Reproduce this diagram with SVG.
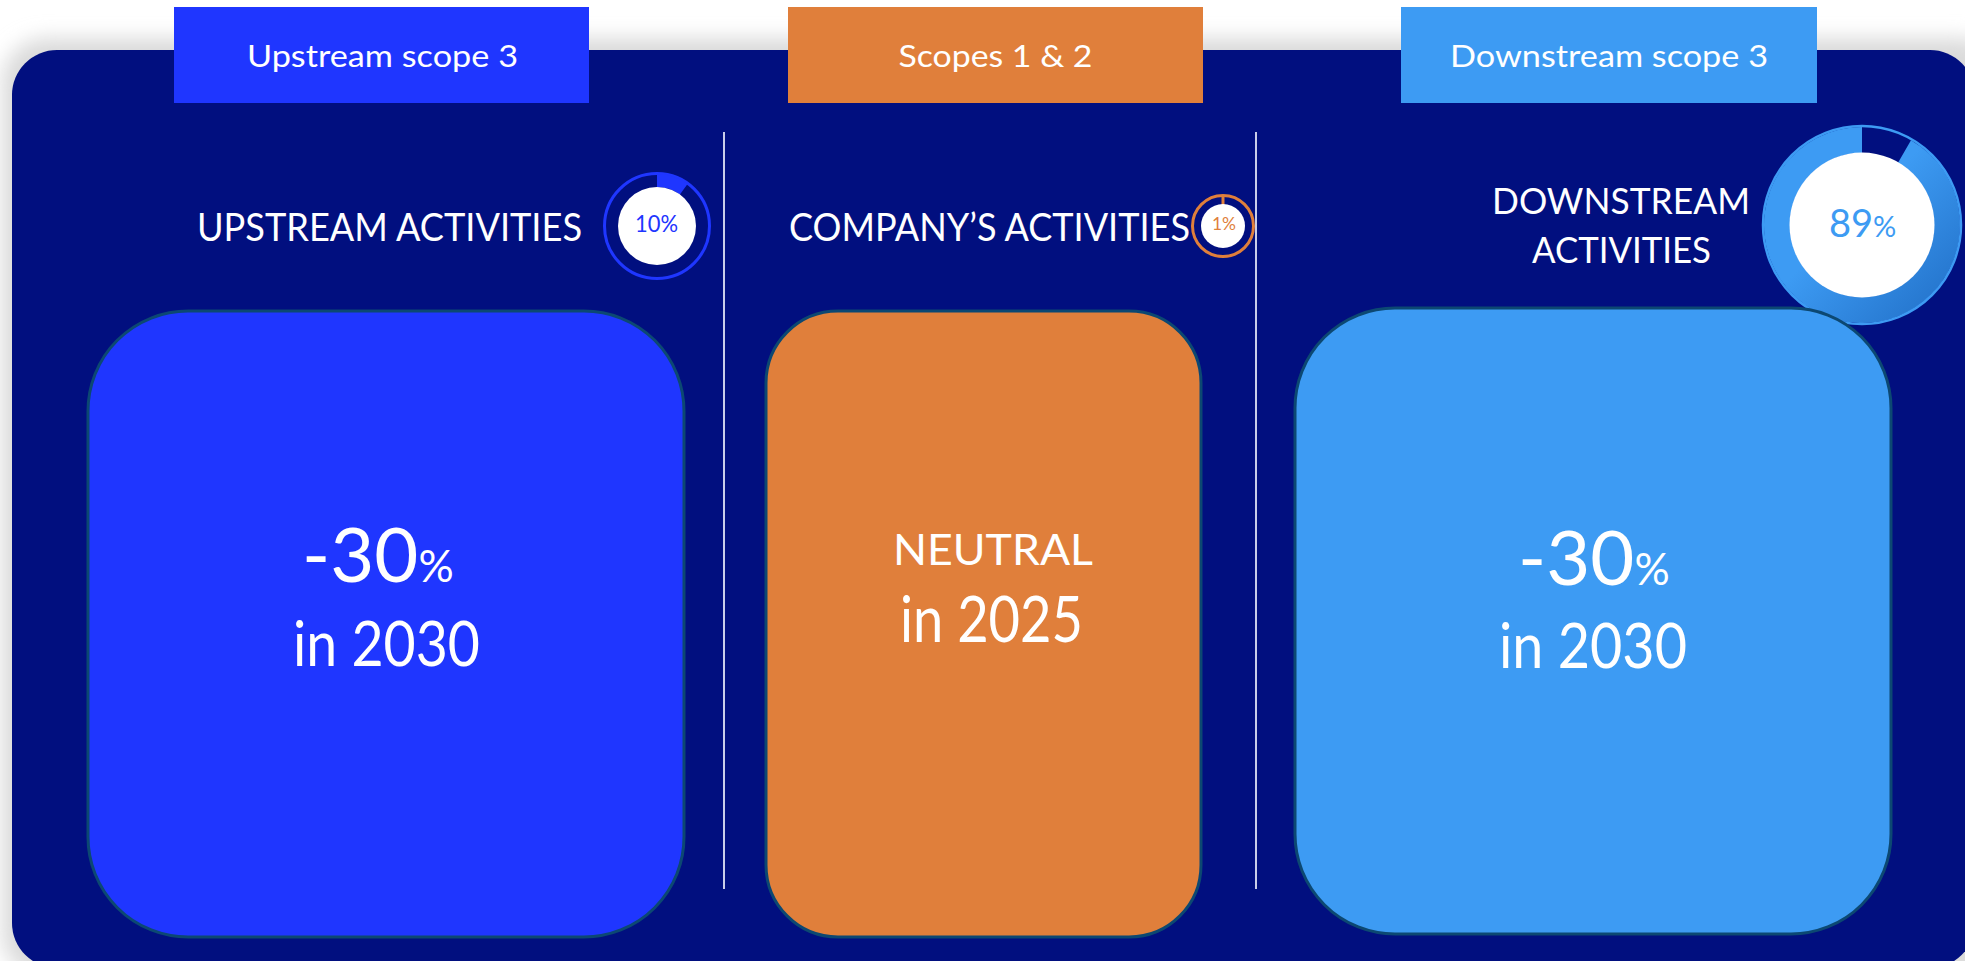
<svg xmlns="http://www.w3.org/2000/svg" width="1965" height="961" viewBox="0 0 1965 961">
<defs>
<filter id="sh" x="-10%" y="-10%" width="120%" height="120%"><feGaussianBlur stdDeviation="10"/></filter>
<linearGradient id="dg" x1="0" y1="0" x2="1" y2="1"><stop offset="0.45" stop-color="#3d9bf3"/><stop offset="1" stop-color="#1f6cc4"/></linearGradient>
<style>
text{font-family:Lato,"Open Sans","Liberation Sans",sans-serif;fill:#fff}
.tab{font-size:31px;text-anchor:middle}
.hd{font-size:38px}
.box{stroke:#0c4872;stroke-width:3}
.div{stroke:#c9cde9;stroke-width:2}
</style>
</defs>
<rect width="1965" height="961" fill="#fff"/>
<rect x="2" y="38" width="2000" height="940" rx="45" fill="#dadada" filter="url(#sh)"/>
<rect id="panel" x="12" y="50" width="1963" height="918" rx="45" fill="#010f7f"/>

<g id="tab-upstream"><rect x="174" y="7" width="415" height="96" fill="#1f36ff"/><text class="tab" x="382.5" y="67" textLength="271" lengthAdjust="spacingAndGlyphs">Upstream scope 3</text></g>
<g id="tab-scopes12"><rect x="788" y="7" width="415" height="96" fill="#e07f3b"/><text class="tab" x="995.5" y="67" textLength="194" lengthAdjust="spacingAndGlyphs">Scopes 1 &amp; 2</text></g>
<g id="tab-downstream"><rect x="1401" y="7" width="416" height="96" fill="#3d9bf3"/><text class="tab" x="1609" y="67" textLength="318" lengthAdjust="spacingAndGlyphs">Downstream scope 3</text></g>

<g id="dividers"><line class="div" x1="724" y1="132" x2="724" y2="889"/><line class="div" x1="1256" y1="132" x2="1256" y2="889"/></g>

<g id="upstream">
<text class="hd" x="197" y="241" textLength="385" lengthAdjust="spacingAndGlyphs">UPSTREAM ACTIVITIES</text>
<g id="donut-upstream">
<circle cx="657" cy="226" r="52.5" fill="none" stroke="#1f36ff" stroke-width="3"/>
<path d="M657,174 A52,52 0 0 1 687.57,183.93 L679.92,194.45 A39,39 0 0 0 657,187 Z" fill="#1f36ff"/>
<circle cx="657" cy="226" r="39" fill="#fff"/>
<text x="635" y="232" textLength="43" lengthAdjust="spacingAndGlyphs" style="fill:#1f36ff;font-size:23px">10%</text>
</g>
<rect class="box" x="88" y="311" width="596" height="626" rx="100" fill="#1f36ff"/>
<text x="302" y="582" style="font-size:76px">-30<tspan style="font-size:44px">%</tspan></text>
<text x="293" y="666" textLength="187" lengthAdjust="spacingAndGlyphs" style="font-size:62px">in 2030</text>
</g>

<g id="company">
<text class="hd" x="789" y="241" textLength="401" lengthAdjust="spacingAndGlyphs">COMPANY’S ACTIVITIES</text>
<g id="donut-company">
<circle cx="1223" cy="226" r="30.5" fill="none" stroke="#e07f3b" stroke-width="3"/>
<line x1="1223" y1="195" x2="1223" y2="205" stroke="#e07f3b" stroke-width="3"/>
<circle cx="1223" cy="226" r="22" fill="#fff"/>
<text x="1212" y="230" textLength="24" lengthAdjust="spacingAndGlyphs" style="fill:#e07f3b;font-size:18px">1%</text>
</g>
<rect class="box" x="766" y="311" width="435" height="626" rx="72" fill="#e07f3b"/>
<text x="893" y="565" textLength="200" lengthAdjust="spacingAndGlyphs" style="font-size:42px">NEUTRAL</text>
<text x="900" y="642" textLength="183" lengthAdjust="spacingAndGlyphs" style="font-size:64px">in 2025</text>
</g>

<g id="downstream">
<text x="1492" y="214" textLength="258" lengthAdjust="spacingAndGlyphs" style="font-size:36px">DOWNSTREAM</text>
<text x="1532" y="263" textLength="179" lengthAdjust="spacingAndGlyphs" style="font-size:36px">ACTIVITIES</text>
<g id="donut-downstream">
<path d="M1911,140.13 A98,98 0 1 1 1862,127 L1862,153 A72,72 0 1 0 1898,162.65 Z" fill="url(#dg)"/>
<circle cx="1862" cy="225" r="99" fill="none" stroke="#3d9bf3" stroke-width="2.5"/>
<circle cx="1862" cy="225" r="72.5" fill="#fff"/>
<text x="1829" y="237" style="fill:#3d9bf3;font-size:38px">89<tspan style="font-size:29px">%</tspan></text>
</g>
<rect class="box" x="1295" y="308" width="596" height="626" rx="100" fill="#3d9bf3"/>
<text x="1518" y="585" style="font-size:76px">-30<tspan style="font-size:44px">%</tspan></text>
<text x="1499" y="668" textLength="188" lengthAdjust="spacingAndGlyphs" style="font-size:62px">in 2030</text>
</g>
</svg>
